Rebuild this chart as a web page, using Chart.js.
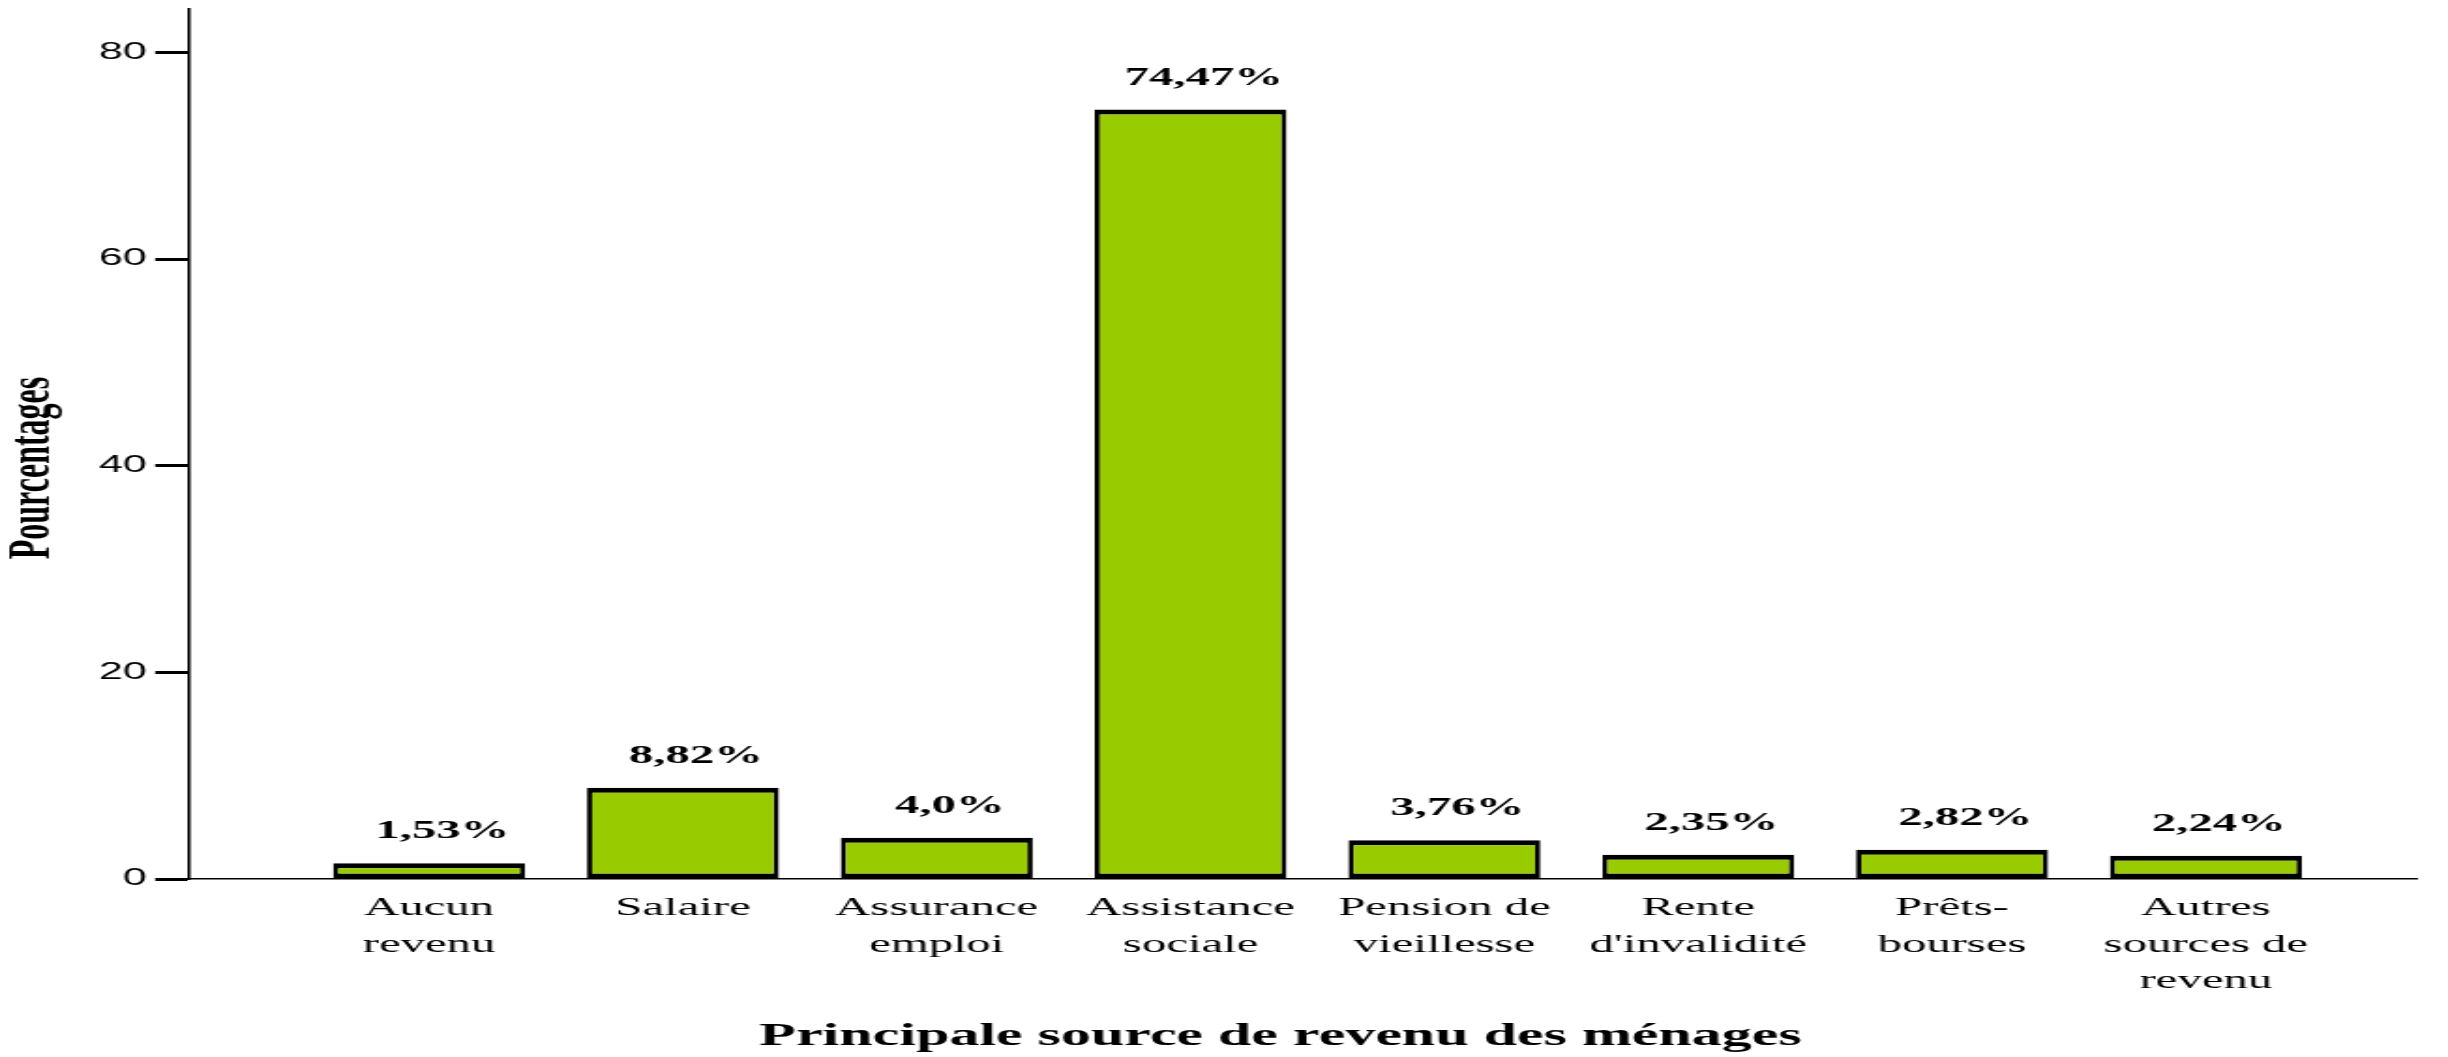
<!DOCTYPE html>
<html lang="fr">
<head>
<meta charset="utf-8">
<title>Principale source de revenu des ménages</title>
<script src="https://cdn.jsdelivr.net/npm/chart.js@4.4.1/dist/chart.umd.min.js"></script>
<style>
  html, body { margin: 0; padding: 0; background: #fff; overflow: hidden; }
  /* the original picture is stretched sideways, so draw narrow and widen it */
  #wrap { width: 1306px; height: 1057px; transform: scaleX(1.8744); transform-origin: 0 0; }
</style>
</head>
<body>
<div id="wrap"><canvas id="sourceChart" width="1306" height="1057"></canvas></div>
<script>
const categories = [
  ["Aucun", "revenu"],
  ["Salaire"],
  ["Assurance", "emploi"],
  ["Assistance", "sociale"],
  ["Pension de", "vieillesse"],
  ["Rente", "d'invalidité"],
  ["Prêts-", "bourses"],
  ["Autres", "sources de", "revenu"]
];
const percentages = [1.53, 8.82, 4.0, 74.47, 3.76, 2.35, 2.82, 2.24];
const valueLabels = ["1,53%", "8,82%", "4,0%", "74,47%", "3,76%", "2,35%", "2,82%", "2,24%"];
const yTicks = [0, 20, 40, 60, 80];

// labels above the bars
const barLabels = {
  id: "barLabels",
  afterDatasetsDraw(chart) {
    const ctx = chart.ctx;
    const bars = chart.getDatasetMeta(0).data;
    ctx.save();
    ctx.font = 'bold 26px "Liberation Serif"';
    ctx.fillStyle = "#000";
    ctx.textAlign = "center";
    ctx.textBaseline = "alphabetic";
    bars.forEach((bar, i) => {
      ctx.fillText(valueLabels[i], bar.x + 7, bar.y - 25);
    });
    ctx.restore();
  }
};

// titles sit a little off-centre in the original; trailing spaces nudge them
const pad = (n) => "\u00a0".repeat(n);

Chart.defaults.color = "#000";

new Chart(document.getElementById("sourceChart"), {
  type: "bar",
  data: {
    datasets: [{
      data: percentages.map((v, i) => ({ x: i, y: v })),
      backgroundColor: "#99cc00",
      borderColor: "#000",
      borderWidth: { top: 5, bottom: 5, left: 2.8, right: 2.8 },
      borderSkipped: false,
      barPercentage: 0.756,
      categoryPercentage: 1
    }]
  },
  options: {
    responsive: false,
    animation: false,
    layout: { padding: { top: 9, right: 16.5, left: 0, bottom: 0 } },
    plugins: { legend: { display: false }, tooltip: { enabled: false } },
    scales: {
      x: {
        type: "linear",
        offset: false,
        min: -0.946,
        max: 7.832,
        afterBuildTicks: (s) => { s.ticks = categories.map((c, i) => ({ value: i })); },
        afterFit: (s) => { s.height = 178; s.paddingLeft = 0; s.paddingRight = 0; },
        grid: { display: false },
        border: { display: true, color: "#000", width: 1.5 },
        ticks: {
          autoSkip: false,
          maxRotation: 0,
          padding: 3,
          font: { family: "Liberation Serif", size: 26, lineHeight: 36.5 / 26 },
          callback: (v) => categories[v]
        },
        title: {
          display: true,
          text: "Principale source de revenu des ménages" + pad(3),
          font: { family: "Liberation Serif", size: 32, weight: "bold", lineHeight: 1 },
          padding: { top: 0, bottom: 4 }
        }
      },
      y: {
        min: 0,
        max: 84.2,
        afterBuildTicks: (s) => { s.ticks = yTicks.map((v) => ({ value: v })); },
        afterFit: (s) => { s.width = 100.8; s.paddingTop = 0; s.paddingBottom = 0; },
        grid: {
          drawOnChartArea: false,
          drawTicks: true,
          tickLength: 18,
          tickWidth: 3,
          tickColor: "#000",
          color: "#000"
        },
        border: { display: true, color: "#000", width: 1.6 },
        ticks: {
          padding: 4.4,
          font: { family: "Liberation Sans", size: 23 }
        },
        title: {
          display: true,
          text: "Pourcentages" + pad(6),
          font: { family: "Liberation Serif", size: 32, weight: "bold", lineHeight: 1 },
          padding: { top: 2, bottom: 0 }
        }
      }
    }
  },
  plugins: [barLabels]
});
</script>
</body>
</html>
